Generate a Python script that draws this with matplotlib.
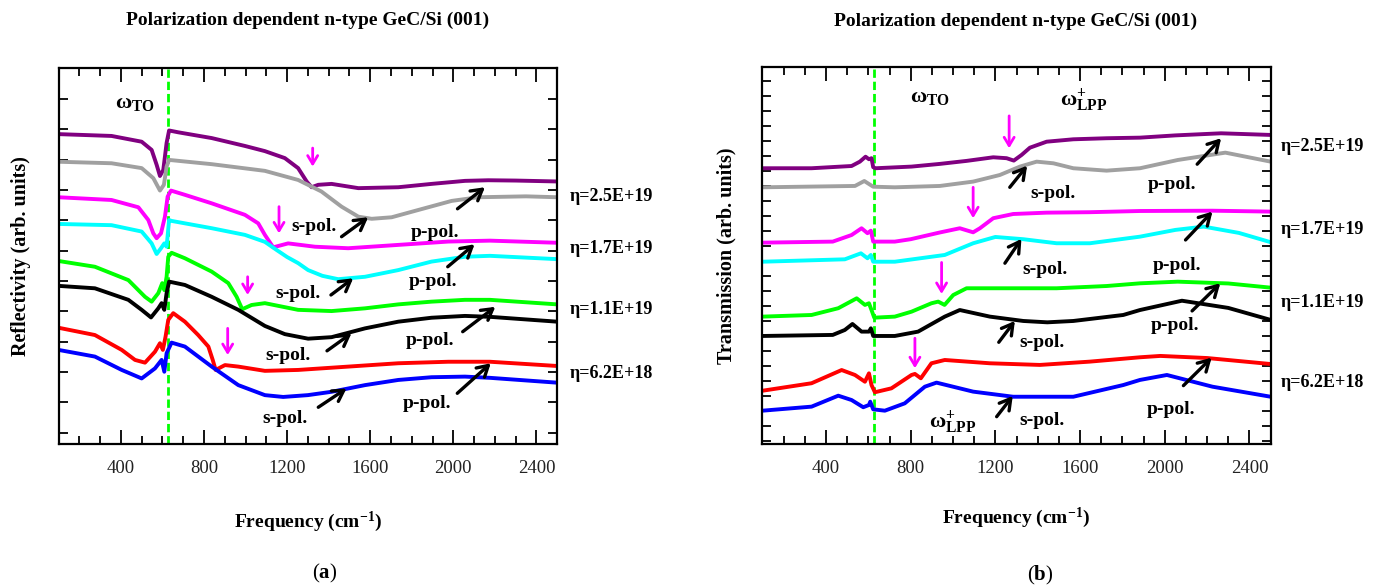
"""Polarization dependent n-type GeC/Si (001): reflectivity (a) and transmission (b)."""

import matplotlib

matplotlib.use("Agg")
import matplotlib.pyplot as plt
from matplotlib.ticker import MultipleLocator

plt.rcParams.update({
    "font.family": "serif",
    "font.serif": ["Liberation Serif", "DejaVu Serif"],
    "mathtext.fontset": "custom",
    "mathtext.rm": "Liberation Serif",
    "mathtext.bf": "Liberation Serif:bold",
    "mathtext.it": "Liberation Serif:italic",
})

PURPLE = "#800080"
GRAY = "#a0a0a0"
MAGENTA = "#ff00ff"
CYAN = "#00ffff"
GREEN = "#00ff00"
BLUE = "#0000ff"
RED = "#ff0000"
INK = "#000000"

OMEGA_TO = 628          # cm^-1, dashed marker
X_TICKS = [400, 800, 1200, 1600, 2000, 2400]
ETA_LABELS = ["η=2.5E+19", "η=1.7E+19", "η=1.1E+19", "η=6.2E+18"]

# ---------------- (a) reflectivity, arb. units ----------------
ra_f_purple = [100, 355, 500, 548, 572, 588, 604, 620, 632, 676, 837, 997, 1093, 1189,
               1253, 1294, 1318, 1350, 1414, 1543, 1735, 1895, 2056, 2168, 2300, 2500]
ra_purple = [9.84, 9.78, 9.59, 9.32, 8.83, 8.46, 8.66, 9.55, 9.96, 9.90, 9.71, 9.45, 9.28,
             9.05, 8.72, 8.28, 8.09, 8.17, 8.20, 8.06, 8.09, 8.20, 8.30, 8.32, 8.31, 8.28]
ra_f_gray = [100, 355, 500, 556, 588, 607, 620, 632, 676, 837, 1093, 1253, 1365, 1462,
             1543, 1607, 1703, 1831, 1992, 2120, 2350, 2500]
ra_gray = [8.93, 8.88, 8.72, 8.39, 7.98, 8.17, 8.77, 8.99, 8.96, 8.85, 8.63, 8.33, 7.95,
           7.45, 7.12, 7.05, 7.10, 7.34, 7.64, 7.76, 7.79, 7.76]
ra_f_magenta = [100, 355, 484, 532, 556, 572, 593, 612, 625, 641, 708, 837, 997, 1061,
                1093, 1133, 1205, 1334, 1494, 1735, 1976, 2176, 2500]
ra_magenta = [7.76, 7.67, 7.43, 7.01, 6.57, 6.41, 6.57, 7.12, 7.78, 7.98, 7.84, 7.56,
              7.18, 6.90, 6.52, 6.11, 6.24, 6.13, 6.08, 6.19, 6.30, 6.33, 6.26]
ra_f_cyan = [100, 355, 500, 548, 572, 593, 609, 620, 632, 644, 837, 997, 1093, 1150,
             1200, 1253, 1301, 1370, 1446, 1575, 1735, 1895, 2056, 2176, 2500]
ra_cyan = [6.88, 6.84, 6.63, 6.24, 5.89, 6.08, 6.24, 6.13, 7.01, 6.98, 6.74, 6.52, 6.29,
           6.02, 5.79, 5.59, 5.36, 5.17, 5.06, 5.14, 5.36, 5.64, 5.80, 5.83, 5.72]
ra_f_green = [100, 275, 436, 516, 548, 580, 599, 609, 620, 628, 644, 708, 837, 917, 957,
              984, 1029, 1093, 1253, 1414, 1575, 1735, 1895, 2056, 2176, 2500]
ra_green = [5.66, 5.47, 5.03, 4.48, 4.32, 4.60, 4.93, 4.70, 5.14, 5.80, 5.93, 5.75, 5.31,
            4.93, 4.48, 4.07, 4.21, 4.27, 4.05, 4.01, 4.10, 4.23, 4.32, 4.38, 4.38, 4.23]
ra_f_black = [100, 275, 436, 500, 545, 580, 596, 609, 620, 632, 708, 837, 965, 1093,
              1189, 1301, 1414, 1575, 1735, 1895, 2056, 2176, 2500]
ra_black = [4.84, 4.76, 4.38, 4.05, 3.80, 4.10, 4.27, 4.05, 4.60, 4.98, 4.87, 4.48, 4.05,
            3.52, 3.25, 3.10, 3.15, 3.44, 3.66, 3.79, 3.85, 3.82, 3.66]
ra_f_red = [100, 275, 404, 468, 516, 564, 588, 602, 615, 628, 652, 708, 772, 821, 842,
            856, 901, 965, 1093, 1253, 1494, 1735, 1976, 2176, 2500]
ra_red = [3.46, 3.22, 2.73, 2.40, 2.31, 2.67, 2.95, 2.73, 3.17, 3.72, 3.94, 3.66, 3.22,
          2.84, 2.40, 2.07, 2.23, 2.18, 2.04, 2.07, 2.18, 2.29, 2.34, 2.34, 2.20]
ra_f_blue = [100, 275, 404, 500, 564, 596, 609, 620, 644, 708, 837, 965, 1093, 1181,
             1300, 1414, 1575, 1735, 1895, 2056, 2176, 2500]
ra_blue = [2.73, 2.51, 2.07, 1.79, 2.12, 2.40, 2.01, 2.62, 2.97, 2.84, 2.18, 1.57, 1.24,
           1.18, 1.24, 1.35, 1.57, 1.74, 1.83, 1.85, 1.81, 1.65]

# black arrows: tail (f, v) -> head (f, v)
ra_arrows = [((1462, 6.46), (1590, 7.10)), ((2020, 7.38), (2152, 8.09)),
             ((1973, 5.47), (2102, 6.21)), ((1411, 4.54), (1518, 5.09)),
             ((2045, 3.33), (2202, 4.15)), ((1392, 2.70), (1510, 3.28)),
             ((2019, 1.30), (2180, 2.29)), ((1350, 0.84), (1486, 1.46))]
ra_pol_labels = [("s-pol.", 1330, 6.79), ("p-pol.", 1911, 6.61), ("p-pol.", 1903, 4.98),
                 ("s-pol.", 1253, 4.60), ("p-pol.", 1887, 3.03), ("s-pol.", 1205, 2.53),
                 ("p-pol.", 1871, 0.95), ("s-pol.", 1190, 0.47)]
# magenta markers: frequency, top, bottom
ra_marks = [(1323, 9.38, 8.77), (1161, 7.45, 6.57), (1010, 5.14, 4.54), (914, 3.44, 2.56)]
ra_eta_y = [7.78, 6.08, 4.05, 1.96]

# ---------------- (b) transmission, arb. units ----------------
tb_f_purple = [100, 332, 521, 560, 587, 603, 615, 623, 634, 804, 938, 1064, 1190, 1253,
               1287, 1324, 1363, 1442, 1568, 1725, 1883, 2050, 2266, 2500]
tb_purple = [18.18, 18.18, 18.33, 18.62, 18.95, 18.78, 18.85, 18.25, 18.18, 18.29, 18.47,
             18.67, 18.91, 18.85, 18.69, 19.07, 19.55, 19.95, 20.11, 20.18, 20.22, 20.37,
             20.51, 20.40]
tb_f_gray = [100, 537, 581, 603, 623, 725, 938, 1095, 1221, 1316, 1395, 1474, 1568, 1725,
             1883, 2061, 2286, 2500]
tb_gray = [16.91, 17.00, 17.33, 17.13, 16.95, 16.91, 17.00, 17.29, 17.73, 18.29, 18.62,
           18.51, 18.18, 18.02, 18.18, 18.73, 19.22, 18.62]
tb_f_magenta = [100, 432, 521, 568, 596, 612, 623, 725, 800, 938, 1032, 1095, 1127, 1190,
                1284, 1442, 1646, 1883, 2225, 2500]
tb_magenta = [13.22, 13.29, 13.73, 14.18, 13.85, 14.02, 13.29, 13.29, 13.45, 13.90, 14.18,
              13.91, 14.18, 14.85, 15.13, 15.22, 15.25, 15.33, 15.35, 15.29]
tb_f_cyan = [100, 489, 565, 596, 612, 623, 725, 961, 1095, 1200, 1332, 1489, 1646, 1883,
             2050, 2184, 2350, 2500]
tb_cyan = [11.95, 12.11, 12.51, 12.18, 12.40, 11.95, 11.95, 12.40, 13.18, 13.60, 13.45,
           13.18, 13.18, 13.62, 14.07, 14.29, 13.87, 13.25]
tb_f_green = [100, 332, 458, 545, 584, 603, 615, 628, 725, 804, 898, 930, 960, 1001, 1064,
              1253, 1489, 1725, 1883, 2061, 2300, 2500]
tb_green = [8.29, 8.40, 8.85, 9.51, 9.07, 9.18, 8.73, 8.22, 8.29, 8.62, 9.18, 9.29, 9.07,
            9.73, 10.18, 10.18, 10.18, 10.33, 10.51, 10.62, 10.50, 10.22]
tb_f_black = [100, 432, 489, 525, 568, 603, 612, 623, 725, 835, 961, 1032, 1174, 1332,
              1445, 1568, 1804, 1883, 2081, 2300, 2500]
tb_black = [7.00, 7.07, 7.40, 7.80, 7.29, 7.29, 7.51, 7.00, 7.00, 7.29, 8.29, 8.73, 8.29,
            8.00, 7.91, 8.00, 8.40, 8.73, 9.35, 8.87, 8.07]
tb_f_red = [100, 332, 474, 537, 584, 603, 615, 631, 709, 804, 820, 848, 898, 961, 1174,
            1410, 1646, 1883, 1979, 2200, 2500]
tb_red = [3.35, 3.85, 4.73, 4.40, 3.95, 4.51, 3.73, 3.25, 3.51, 4.40, 4.47, 4.18, 5.18,
          5.40, 5.18, 5.07, 5.29, 5.58, 5.67, 5.53, 5.13]
tb_f_blue = [100, 332, 458, 521, 576, 603, 609, 623, 678, 772, 867, 922, 1095, 1284, 1568,
             1804, 1883, 2010, 2225, 2500]
tb_blue = [2.02, 2.29, 3.02, 2.73, 2.25, 2.40, 2.62, 2.11, 2.02, 2.51, 3.62, 3.89, 3.29,
           2.95, 2.95, 3.73, 4.07, 4.40, 3.62, 2.95]

tb_arrows = [((2153, 18.45), (2266, 20.18)), ((1268, 16.91), (1350, 18.35)),
             ((2098, 13.40), (2225, 15.29)), ((1245, 11.85), (1323, 13.47)),
             ((2129, 8.67), (2262, 10.51)), ((1216, 6.58), (1292, 8.00)),
             ((2088, 3.69), (2221, 5.55)), ((1206, 1.62), (1282, 3.00))]
tb_pol_labels = [("s-pol.", 1470, 16.51), ("p-pol.", 2036, 17.07), ("s-pol.", 1435, 11.40),
                 ("p-pol.", 2057, 11.73), ("p-pol.", 2047, 7.73), ("s-pol.", 1421, 6.55),
                 ("p-pol.", 2030, 2.07), ("s-pol.", 1421, 1.35)]
tb_marks = [(1265, 21.67, 19.51), (1095, 16.91, 14.85), (946, 11.90, 9.80), (820, 6.85, 4.85)]
tb_eta_y = [19.62, 14.13, 9.22, 3.89]

COLORS = [PURPLE, GRAY, MAGENTA, CYAN, GREEN, INK, RED, BLUE]
refl = [(ra_f_purple, ra_purple), (ra_f_gray, ra_gray), (ra_f_magenta, ra_magenta),
        (ra_f_cyan, ra_cyan), (ra_f_green, ra_green), (ra_f_black, ra_black),
        (ra_f_red, ra_red), (ra_f_blue, ra_blue)]
trans = [(tb_f_purple, tb_purple), (tb_f_gray, tb_gray), (tb_f_magenta, tb_magenta),
         (tb_f_cyan, tb_cyan), (tb_f_green, tb_green), (tb_f_black, tb_black),
         (tb_f_red, tb_red), (tb_f_blue, tb_blue)]

BOLD = dict(fontweight="bold", color=INK)


def panel(ax, curves, ylim, n_ticks, arrows, pol_labels, marks, eta_x, eta_y):
    for (f, v), c in zip(curves, COLORS):
        ax.plot(f, v, color=c, lw=2.8, solid_joinstyle="round", solid_capstyle="round")
    ax.axvline(OMEGA_TO, color=GREEN, lw=2.0, ls=(0, (3, 1.4)), zorder=1)
    for tail, head in arrows:
        ax.annotate("", xy=head, xytext=tail,
                    arrowprops=dict(arrowstyle="->,head_length=0.55,head_width=0.32",
                                    lw=2.4, color=INK, shrinkA=0, shrinkB=0,
                                    mutation_scale=14))
    for txt, f, v in pol_labels:
        ax.text(f, v, txt, ha="center", va="center", fontsize=14, **BOLD)
    for f, top, bot in marks:
        ax.annotate("", xy=(f, bot), xytext=(f, top),
                    arrowprops=dict(arrowstyle="->,head_length=0.5,head_width=0.3",
                                    lw=2.0, color=MAGENTA, shrinkA=0, shrinkB=0,
                                    mutation_scale=12))
    for txt, y in zip(ETA_LABELS, eta_y):
        ax.text(eta_x, y, txt, ha="left", va="center", fontsize=13, clip_on=False, **BOLD)

    ax.set_xlim(100, 2500)
    ax.set_ylim(*ylim)
    ax.set_xticks(X_TICKS, [str(t) for t in X_TICKS])
    ax.xaxis.set_minor_locator(MultipleLocator(100))
    ax.set_yticks(range(n_ticks))
    ax.set_yticklabels([])
    ax.tick_params(which="both", direction="in", top=True, right=True,
                   width=1.3, colors=INK, labelcolor="#222222", labelsize=13.5)
    ax.tick_params(axis="x", which="major", length=10, pad=11)
    ax.tick_params(axis="x", which="minor", length=6)
    ax.tick_params(axis="y", length=6.5)
    for s in ax.spines.values():
        s.set_linewidth(1.6)


fig = plt.figure(figsize=(13.81, 5.88), dpi=100)
ax_a = fig.add_axes([0.0424, 0.2444, 0.3611, 0.6395])
ax_b = fig.add_axes([0.5521, 0.2444, 0.3680, 0.6422])

panel(ax_a, refl, (-0.38, 12.01), 12, ra_arrows, ra_pol_labels, ra_marks, 2560, ra_eta_y)
panel(ax_b, trans, (-0.22, 24.95), 25, tb_arrows, tb_pol_labels, tb_marks, 2548, tb_eta_y)

ax_a.text(374, 10.84, r"$\mathbf{ω}_{\mathbf{TO}}$", fontsize=16, va="center", ha="left")
ax_b.text(795, 22.87, r"$\mathbf{ω}_{\mathbf{TO}}$", fontsize=16, va="center", ha="left")
ax_b.text(1507, 22.67, r"$\mathbf{ω}_{\mathbf{LPP}}^{\mathbf{+}}$", fontsize=16,
          va="center", ha="left")
ax_b.text(886, 1.2, r"$\mathbf{ω}_{\mathbf{LPP}}^{\mathbf{+}}$", fontsize=16,
          va="center", ha="left")

title = "Polarization dependent n-type GeC/Si (001)"
fig.text(0.2230, 0.966, title, ha="center", va="center", fontsize=14, **BOLD)
fig.text(0.7357, 0.963, title, ha="center", va="center", fontsize=14, **BOLD)
fig.text(0.0152, 0.5646, "Reflectivity (arb. units)", rotation=90, ha="center",
         va="center", fontsize=14.5, **BOLD)
fig.text(0.5257, 0.5655, "Transmission (arb. units)", rotation=90, ha="center",
         va="center", fontsize=14.5, **BOLD)
xlab = r"Frequency (cm$^{\mathbf{-1}}$)"
fig.text(0.2230, 0.1128, xlab, ha="center", va="center", fontsize=14, **BOLD)
fig.text(0.7357, 0.1190, xlab, ha="center", va="center", fontsize=14, **BOLD)
fig.text(0.2353, 0.0255, r"($\mathbf{a}$)", ha="center", va="center", fontsize=15)
fig.text(0.7530, 0.0221, r"($\mathbf{b}$)", ha="center", va="center", fontsize=15)

fig.savefig("out.png", dpi=100, facecolor="white")
